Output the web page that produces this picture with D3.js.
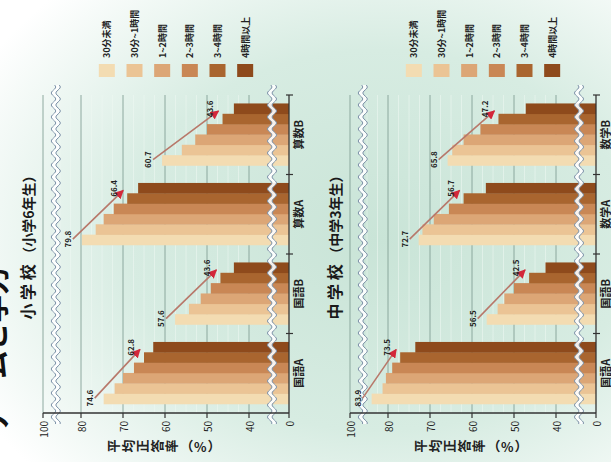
<!DOCTYPE html>
<html>
<head>
<meta charset="utf-8">
<script src="https://cdn.jsdelivr.net/npm/d3@7"></script>
<style>
  html, body { margin: 0; padding: 0; background: #fff; }
  svg { display: block; }
  text { font-family: "Noto Sans CJK JP", "Noto Sans", sans-serif; }
</style>
</head>
<body>
<svg id="chart" width="611" height="462"></svg>
<script>
// ---- data -------------------------------------------------------------
const studyTimes = ["30分未満", "30分~1時間", "1~2時間", "2~3時間", "3~4時間", "4時間以上"];
const categoriesElementary = ["国語A", "国語B", "算数A", "算数B"];
const categoriesJunior = ["国語A", "国語B", "数学A", "数学B"];

// average correct-answer rate (%) by time spent, lowest time first
const elemKokugoA = [74.6, 72.0, 70.0, 67.4, 65.0, 62.8];
const elemKokugoB = [57.6, 54.3, 51.5, 49.1, 46.8, 43.6];
const elemSansuA  = [79.8, 76.5, 74.6, 72.2, 69.0, 66.4];
const elemSansuB  = [60.7, 56.0, 52.8, 50.0, 46.3, 43.6];

const juniorKokugoA = [83.9, 81.3, 80.5, 79.0, 77.1, 73.5];
const juniorKokugoB = [56.5, 53.9, 52.3, 50.0, 46.4, 42.5];
const juniorMathA   = [72.7, 71.8, 69.1, 65.5, 62.0, 56.7];
const juniorMathB   = [65.8, 64.7, 62.0, 58.0, 53.7, 47.2];

const yTicks = [0, 40, 50, 60, 70, 80, 100];
const gridValues = [40, 50, 60, 70, 80, 100];
const axisBreaks = [17, 86];   // values where the axis is broken

const colors = ["#f3dcb2", "#ebc495", "#dca676", "#c98755", "#a9652f", "#8e4a1c"];

const panels = [
  { head: "小 学 校 ", sub: "（小学6年生）", categories: categoriesElementary,
    rows: [elemKokugoA, elemKokugoB, elemSansuA, elemSansuB] },
  { head: "中 学 校 ", sub: "（中学3年生）", categories: categoriesJunior,
    rows: [juniorKokugoA, juniorKokugoB, juniorMathA, juniorMathB] }
];

// ---- setup ------------------------------------------------------------
const svg = d3.select("#chart");
const defs = svg.append("defs");

const bg = defs.append("radialGradient").attr("id", "bg")
  .attr("cx", "62%").attr("cy", "52%").attr("r", "75%");
bg.append("stop").attr("offset", "0%").attr("stop-color", "#c9e4d7");
bg.append("stop").attr("offset", "55%").attr("stop-color", "#d7ece2");
bg.append("stop").attr("offset", "100%").attr("stop-color", "#ffffff");
svg.append("rect").attr("width", 611).attr("height", 462).attr("fill", "url(#bg)");

defs.append("marker").attr("id", "arrowHead")
  .attr("viewBox", "0 0 10 10").attr("refX", 9).attr("refY", 5)
  .attr("markerUnits", "userSpaceOnUse")
  .attr("markerWidth", 9).attr("markerHeight", 9)
  .attr("orient", "auto")
  .append("path").attr("d", "M0,0 L10,5 L0,10 Z").attr("fill", "#d3283a");

// the whole sheet is laid out upright and then turned a quarter turn
const frameW = 462;
const root = svg.append("g").attr("transform", `translate(0,${frameW}) rotate(-90)`);

// big heading of the sheet, mostly beyond the edge
root.append("text").attr("x", 28).attr("y", 6)
  .attr("font-size", 28).attr("font-weight", 700).attr("fill", "#111")
  .text("ゲームと学力");

const plotLeft = 49, plotRight = 367;
const panelStep = 307;

panels.forEach((p, pi) => {
  const off = pi * panelStep;
  const g = root.append("g");

  const y = d3.scaleLinear()
    .domain([0, 40, 86, 100])
    .range([289, 249, 55.8, 43].map(v => v + off));

  const x = d3.scaleBand().domain(p.categories)
    .range([plotLeft, plotRight]).paddingInner(0.22).paddingOuter(0.11);
  const xs = d3.scaleBand().domain(studyTimes).range([0, x.bandwidth()]);

  // title
  const t = g.append("text").attr("x", 218).attr("y", 34 + off)
    .attr("text-anchor", "middle").attr("fill", "#1a1a1a").attr("font-weight", 700);
  t.append("tspan").attr("font-size", 16).text(p.head);
  t.append("tspan").attr("font-size", 14).text(p.sub);

  // faint minor guides
  g.selectAll(".minor").data(d3.range(42.5, 86, 2.5).filter(v => v % 10 !== 0))
    .join("line")
    .attr("x1", plotLeft).attr("x2", plotRight)
    .attr("y1", d => y(d)).attr("y2", d => y(d))
    .attr("stroke", "#eef8f3").attr("stroke-opacity", 0.55).attr("stroke-width", 1);

  // grid
  g.selectAll(".grid").data(gridValues).join("line")
    .attr("x1", plotLeft).attr("x2", plotRight)
    .attr("y1", d => y(d)).attr("y2", d => y(d))
    .attr("stroke", "#85a096").attr("stroke-width", 0.9);

  // bars
  p.categories.forEach((c, ci) => {
    const vals = p.rows[ci];
    g.selectAll(null).data(vals).join("rect")
      .attr("x", (d, i) => x(c) + xs(studyTimes[i]))
      .attr("width", xs.bandwidth() + 0.3)
      .attr("y", d => y(d))
      .attr("height", d => y(0) - y(d))
      .attr("fill", (d, i) => colors[i]);
  });

  // axis breaks
  const waveX = d3.range(plotLeft - 11, plotRight + 11, 1);
  axisBreaks.forEach(bv => {
    const yb = y(bv);
    const wave = xx => 2.2 * Math.sin(2 * Math.PI * xx / 12);
    g.append("path")
      .attr("d", d3.area().x(d => d).y0(d => yb - 2.3 + wave(d)).y1(d => yb + 2.3 + wave(d))(waveX))
      .attr("fill", "#ffffff").attr("fill-opacity", 0.9);
    [-2.3, 2.3].forEach(o => {
      g.append("path")
        .attr("d", d3.line().x(d => d).y(d => yb + o + wave(d))(waveX))
        .attr("fill", "none").attr("stroke", "#7d92a8").attr("stroke-width", 1);
    });
  });

  // value axis
  g.append("line").attr("x1", plotLeft).attr("x2", plotLeft)
    .attr("y1", y(0)).attr("y2", y(100)).attr("stroke", "#333").attr("stroke-width", 1.3);
  g.selectAll(".ytick").data(yTicks).join("line")
    .attr("x1", plotLeft - 5).attr("x2", plotLeft)
    .attr("y1", d => y(d)).attr("y2", d => y(d))
    .attr("stroke", "#333").attr("stroke-width", 1.2);
  g.selectAll(".ylab").data(yTicks).join("text")
    .attr("x", plotLeft - 8).attr("y", d => y(d))
    .attr("text-anchor", "end").attr("dominant-baseline", "central")
    .attr("font-size", 10).attr("fill", "#222").text(d => d);

  // value axis title, written vertically
  g.append("text").attr("x", 16).attr("y", 107 + off)
    .style("writing-mode", "vertical-rl").style("text-orientation", "mixed")
    .attr("font-size", 13).attr("font-weight", 700).attr("letter-spacing", 1.5)
    .attr("fill", "#222").text("平均正答率（%）");

  // category axis
  g.append("line").attr("x1", plotLeft).attr("x2", plotRight)
    .attr("y1", y(0)).attr("y2", y(0)).attr("stroke", "#333").attr("stroke-width", 1.3);
  g.selectAll(".xtick").data(d3.range(1, p.categories.length + 1)).join("line")
    .attr("x1", i => plotLeft + i * x.step()).attr("x2", i => plotLeft + i * x.step())
    .attr("y1", y(0) - 3).attr("y2", y(0) + 4)
    .attr("stroke", "#333").attr("stroke-width", 1.2);
  g.selectAll(".xlab").data(p.categories).join("text")
    .attr("x", d => x(d) + x.bandwidth() / 2).attr("y", y(0) + 14)
    .attr("text-anchor", "middle").attr("font-size", 11).attr("font-weight", 700)
    .attr("fill", "#222").text(d => d);

  // arrows from the shortest time to the longest time
  p.categories.forEach((c, ci) => {
    const vals = p.rows[ci];
    const n = vals.length;
    const sx = x(c) + xs(studyTimes[0]) + xs.bandwidth() / 2 + 1;
    const sy = y(vals[0]) - 9;
    const ex = x(c) + xs(studyTimes[n - 1]) + xs.bandwidth() / 2 - 2;
    const ey = y(vals[n - 2]) - 4;
    g.append("line").attr("x1", sx).attr("y1", sy).attr("x2", ex).attr("y2", ey)
      .attr("stroke", "#b8786a").attr("stroke-width", 1.6)
      .attr("marker-end", "url(#arrowHead)");
    g.append("text").attr("x", sx).attr("y", sy - 2)
      .attr("text-anchor", "middle").attr("font-size", 8).attr("font-weight", 700)
      .attr("fill", "#222").text(vals[0].toFixed(1));
    g.append("text").attr("x", ex + 2).attr("y", ey - 6)
      .attr("text-anchor", "middle").attr("font-size", 8).attr("font-weight", 700)
      .attr("fill", "#222").text(vals[n - 1].toFixed(1));
  });

  // legend
  const ly = d3.scaleBand().domain(studyTimes).range([93 + off, 259 + off]);
  const lg = g.selectAll(".leg").data(studyTimes).join("g");
  lg.append("rect").attr("x", 385).attr("width", 13)
    .attr("y", d => ly(d) + ly.bandwidth() / 2 - 8).attr("height", 16)
    .attr("fill", (d, i) => colors[i]);
  lg.append("text").attr("x", 404).attr("y", d => ly(d) + ly.bandwidth() / 2)
    .attr("dominant-baseline", "central").attr("font-size", 9).attr("font-weight", 700)
    .attr("fill", "#222").text(d => d);
});
</script>
</body>
</html>
